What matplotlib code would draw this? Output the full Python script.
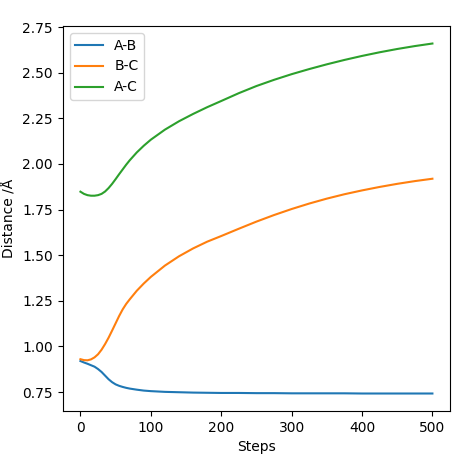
import matplotlib
matplotlib.use("Agg")
import matplotlib.pyplot as plt

steps = [0, 5, 10, 15, 20, 25, 30, 35, 40, 45, 50, 55, 60, 65, 70, 80, 90, 100,
         120, 140, 160, 180, 200, 225, 250, 275, 300, 325, 350, 375, 400,
         425, 450, 475, 500]

ab = [0.920, 0.912, 0.905, 0.897, 0.889, 0.876, 0.860, 0.840, 0.820, 0.804,
      0.792, 0.784, 0.778, 0.773, 0.769, 0.763, 0.758, 0.755, 0.751, 0.749,
      0.747, 0.746, 0.745, 0.745, 0.744, 0.744, 0.743, 0.743, 0.743, 0.743,
      0.742, 0.742, 0.742, 0.742, 0.742]

bc = [0.930, 0.925, 0.924, 0.929, 0.940, 0.957, 0.982, 1.013, 1.048, 1.087,
      1.127, 1.167, 1.203, 1.233, 1.258, 1.305, 1.345, 1.381, 1.443, 1.494,
      1.537, 1.574, 1.605, 1.645, 1.684, 1.720, 1.753, 1.783, 1.810, 1.834,
      1.855, 1.874, 1.891, 1.906, 1.919]

ac = [1.848, 1.836, 1.829, 1.826, 1.826, 1.829, 1.836, 1.849, 1.868, 1.891,
      1.917, 1.944, 1.970, 1.996, 2.020, 2.063, 2.100, 2.133, 2.188, 2.234,
      2.274, 2.311, 2.345, 2.388, 2.427, 2.461, 2.492, 2.520, 2.546, 2.570,
      2.592, 2.612, 2.630, 2.646, 2.660]

fig, ax = plt.subplots(figsize=(4.69, 4.63), dpi=100)
fig.subplots_adjust(left=0.134, right=0.9595, bottom=0.1123, top=0.9438)

ax.plot(steps, ab, label="A-B")
ax.plot(steps, bc, label="B-C")
ax.plot(steps, ac, label="A-C")
ax.set_xlabel("Steps")
ax.set_ylabel("Distance /Å")
ax.legend(loc="upper left")

fig.savefig("out.png", dpi=100)
